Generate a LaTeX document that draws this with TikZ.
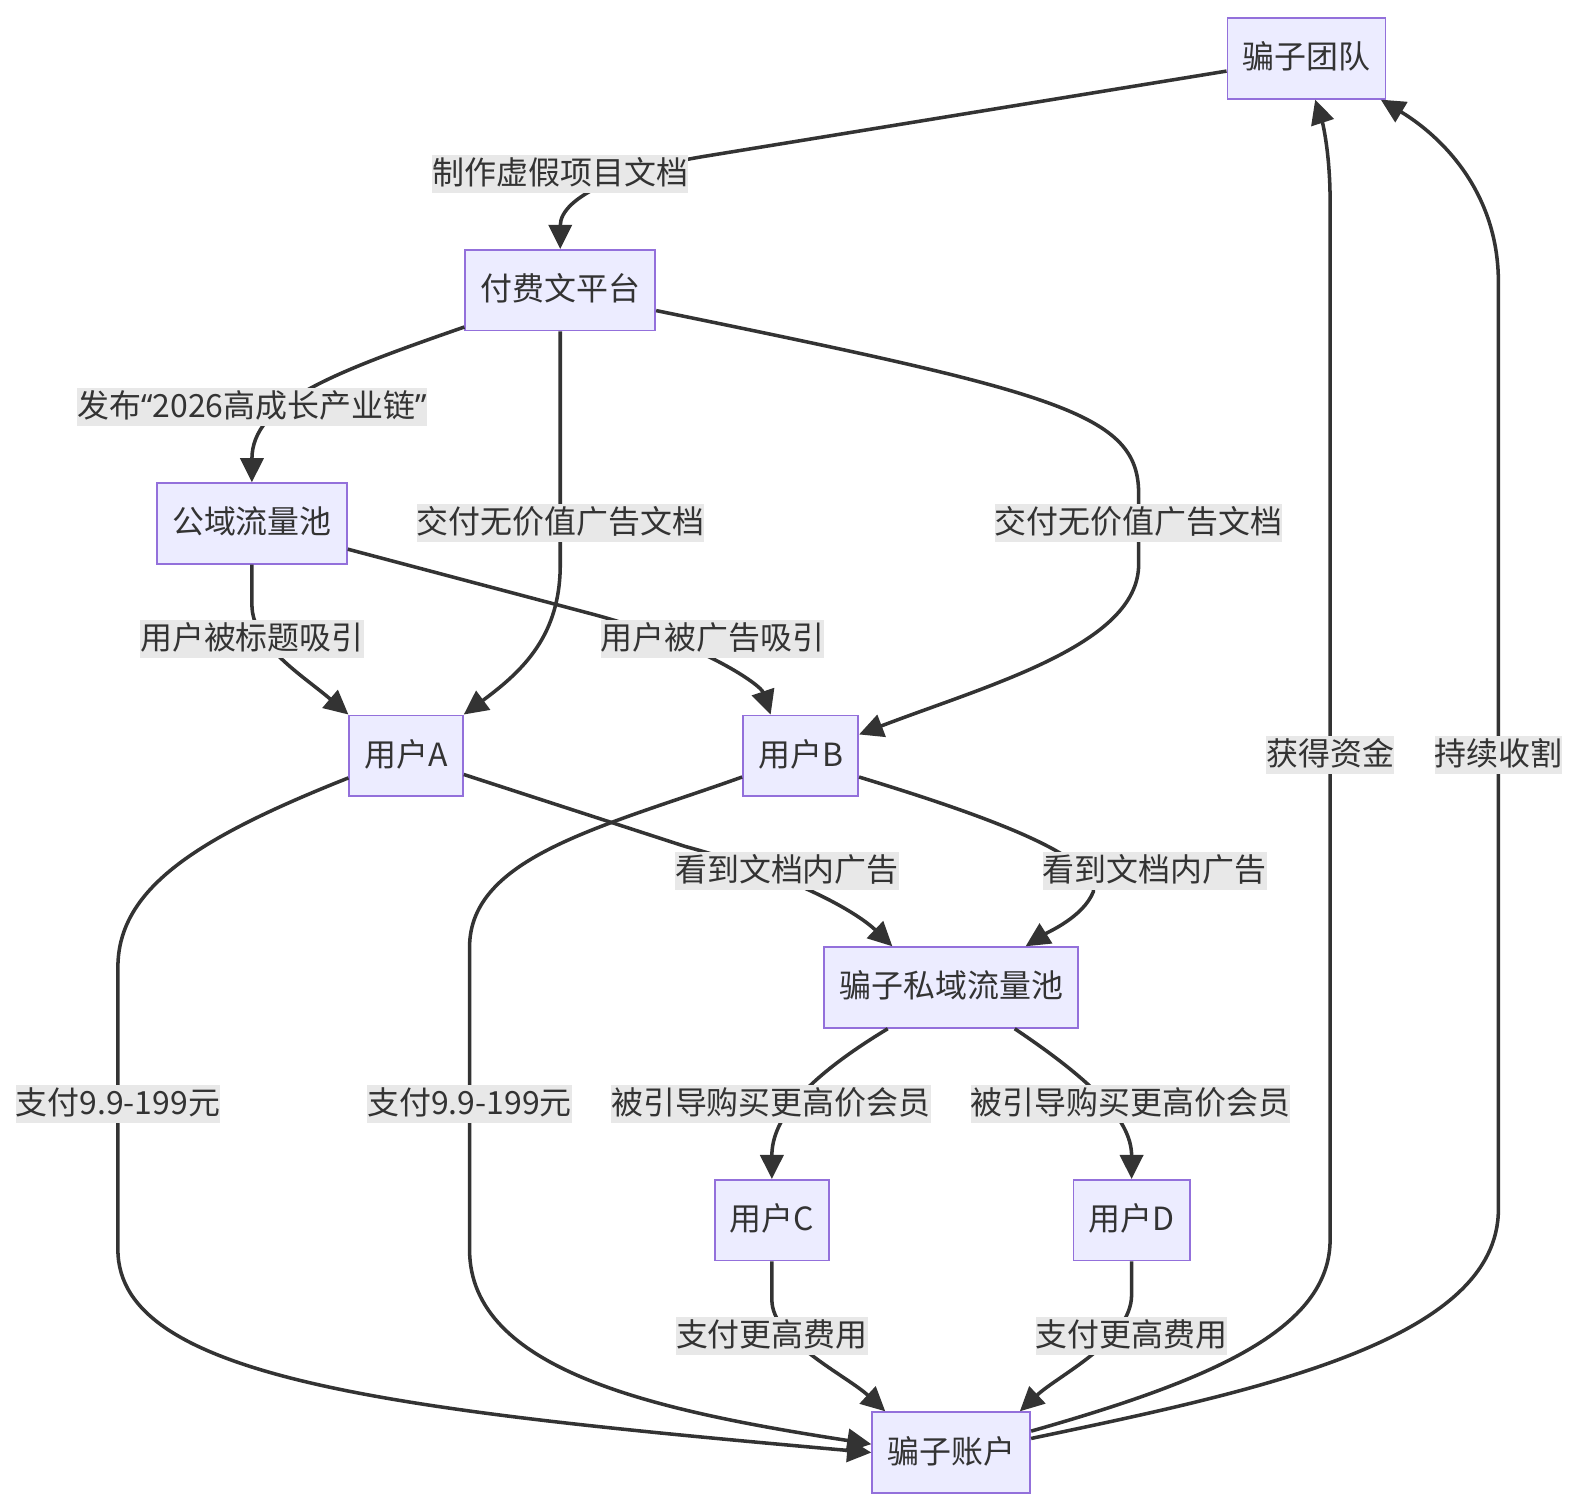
\documentclass[tikz,border=0pt]{standalone}
\usepackage{fontspec}
\setmainfont{Noto Sans CJK SC}
\newfontfamily\quotefont{Noto Sans}
\usepackage{tikz}
\usetikzlibrary{arrows.meta,shapes,positioning}
\usepackage{xcolor}
\definecolor{mmfill}{RGB}{236,236,255}
\definecolor{mmborder}{RGB}{147,112,219}
\definecolor{mmline}{RGB}{51,51,51}
\definecolor{mmlabel}{RGB}{232,232,232}
\tikzstyle{flow} = [line width=1.75pt,-{Triangle[length=12pt,width=11.5pt]},color=mmline]
\tikzstyle{scamnode} = [rectangle, minimum height=40pt, inner xsep=7.5pt, text height=14.6pt, text depth=4.2pt, text centered, draw=mmborder, fill=mmfill, line width=0.9pt, text=mmline, font=\fontsize{15.85pt}{19pt}\selectfont]
\tikzstyle{edgelabel} = [rectangle, fill=mmlabel, inner xsep=0pt, inner ysep=0pt, text height=14.6pt, text depth=4.2pt, text=mmline, font=\fontsize{15.85pt}{19pt}\selectfont]

\begin{document}
\begin{tikzpicture}[x=0.5pt, y=-0.5pt]
    \useasboundingbox (0, 0) rectangle (1568, 1498);

    % Main nodes
    \node[scamnode] (team) at (1296.5, 58) {骗子团队};
    \node[scamnode] (platform) at (556, 288) {付费文平台};
    \node[scamnode] (public) at (250, 519.5) {公域流量池};
    \node[scamnode] (usera) at (403, 750) {用户A};
    \node[scamnode] (userb) at (794.5, 750) {用户B};
    \node[scamnode] (private) at (944, 980) {骗子私域流量池};
    \node[scamnode] (userc) at (766, 1211) {用户C};
    \node[scamnode] (userd) at (1123, 1211) {用户D};
    \node[scamnode] (account) at (944, 1441.5) {骗子账户};

    % Platform side
    \draw[flow] (team.189) -- (700, 155) .. controls (620, 168) and (556, 195) .. (platform.north);
    \draw[flow] (platform.201) .. controls (330, 370) and (250, 400) .. (public.north);
    \draw[flow] (platform.south) -- (556, 560) .. controls (556, 630) and (520, 665) .. (usera.north east);
    \draw[flow] (platform.348) .. controls (1050, 390) and (1130, 410) .. (1130, 490) -- (1130, 560) .. controls (1130, 640) and (980, 680) .. (userb.20);

    % Users
    \draw[flow] (public.south) -- (250, 600) .. controls (250, 640) and (300, 670) .. (usera.north west);
    \draw[flow] (public.345) -- (590, 610) .. controls (700, 640) and (755, 680) .. (userb.126);
    \draw[flow] (usera.342) -- (680, 840) .. controls (790, 870) and (850, 905) .. (private.145);
    \draw[flow] (userb.340) .. controls (980, 810) and (1090, 850) .. (1085, 885) .. controls (1075, 910) and (1040, 925) .. (private.29);

    % Payments
    \draw[flow] (usera.201) .. controls (200, 830) and (117, 880) .. (117, 960) -- (117, 1240) .. controls (117, 1370) and (400, 1400) .. (account.180);
    \draw[flow] (userb.200) .. controls (600, 820) and (466, 850) .. (466, 940) -- (466, 1240) .. controls (466, 1360) and (650, 1400) .. (account.174);
    \draw[flow] (private.213) .. controls (800, 1070) and (766, 1110) .. (userc.north);
    \draw[flow] (private.327) .. controls (1080, 1070) and (1123, 1110) .. (userd.north);
    \draw[flow] (userc.south) -- (766, 1290) .. controls (766, 1330) and (840, 1365) .. (account.148);
    \draw[flow] (userd.south) -- (1123, 1285) .. controls (1123, 1330) and (1050, 1365) .. (account.31);

    % Back to the team
    \draw[flow] (account.15) .. controls (1200, 1370) and (1320, 1320) .. (1320, 1230) -- (1320, 200) .. controls (1320, 150) and (1312, 120) .. (team.282);
    \draw[flow] (account.10) .. controls (1250, 1380) and (1487, 1330) .. (1487, 1200) -- (1487, 280) .. controls (1487, 190) and (1430, 135) .. (team.331);

    % Edge labels
    \node[edgelabel] (lmake) at (556, 173) {制作虚假项目文档};
    \node[edgelabel] (lpublish) at (250, 404) {发布{\quotefont “}2026高成长产业链{\quotefont ”}};
    \node[edgelabel] (ldelivera) at (556, 519) {交付无价值广告文档};
    \node[edgelabel] (ldeliverb) at (1130, 519) {交付无价值广告文档};
    \node[edgelabel] (ltitle) at (250, 634) {用户被标题吸引};
    \node[edgelabel] (lad) at (707, 634) {用户被广告吸引};
    \node[edgelabel] (lseea) at (781, 864) {看到文档内广告};
    \node[edgelabel] (lseeb) at (1146, 864) {看到文档内广告};
    \node[edgelabel] (lpaya) at (117, 1096) {支付9.9-199元};
    \node[edgelabel] (lpayb) at (466, 1096) {支付9.9-199元};
    \node[edgelabel] (lguidec) at (765, 1096) {被引导购买更高价会员};
    \node[edgelabel] (lguided) at (1122, 1096) {被引导购买更高价会员};
    \node[edgelabel] (lmorec) at (766, 1326) {支付更高费用};
    \node[edgelabel] (lmored) at (1123, 1326) {支付更高费用};
    \node[edgelabel] (lgain) at (1320, 749) {获得资金};
    \node[edgelabel] (lharvest) at (1487, 749) {持续收割};
\end{tikzpicture}
\end{document}
